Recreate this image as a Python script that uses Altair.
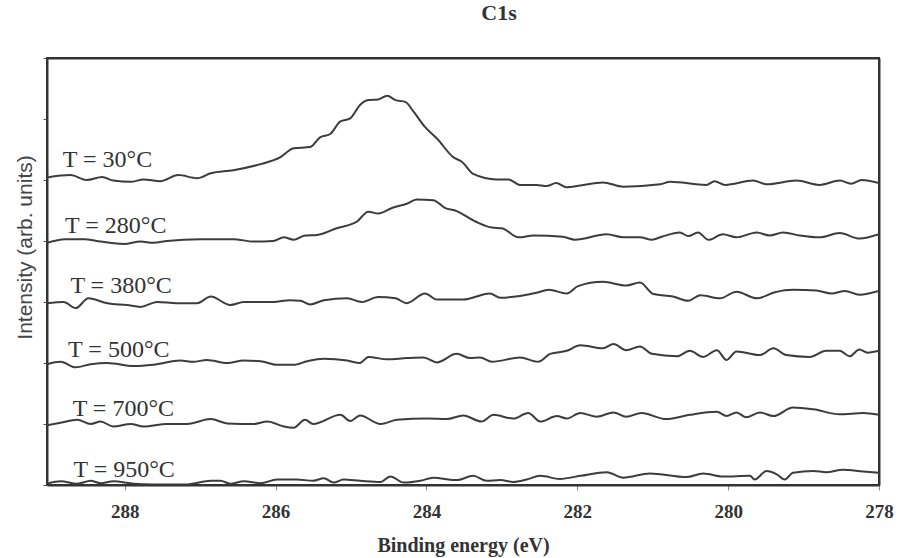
import altair as alt
import pandas as pd

# (binding energy eV, intensity arb. units, offset stacked)
t30 = [(289.03,5.04),(288.72,5.08),(288.50,5.00),(288.30,5.05),(288.15,4.99),(287.92,4.97),(287.75,5.01),
       (287.53,4.98),(287.29,5.08),(287.04,5.03),(286.86,5.11),(286.56,5.16),(286.20,5.26),(285.94,5.37),
       (285.76,5.52),(285.54,5.54),(285.41,5.70),(285.28,5.75),(285.14,5.96),(285.01,6.01),(284.88,6.23),
       (284.77,6.31),(284.64,6.32),(284.52,6.38),(284.41,6.31),(284.28,6.28),(284.17,6.12),(284.02,5.87),
       (283.86,5.68),(283.64,5.37),(283.53,5.30),(283.38,5.10),(283.07,5.01),(282.91,5.01),(282.76,4.92),
       (282.54,4.92),(282.41,4.90),(282.28,4.95),(282.14,4.88),(281.96,4.91),(281.66,4.96),(281.39,4.89),
       (280.90,4.93),(280.77,4.97),(280.29,4.92),(280.18,4.98),(280.04,4.92),(279.67,4.99),(279.49,4.93),
       (279.09,4.99),(278.79,4.92),(278.52,4.99),(278.37,4.94),(278.23,5.00),(278.00,4.95)]

t280 = [(289.03,3.97),(288.79,4.03),(288.54,4.03),(288.32,3.99),(288.01,3.95),(287.79,3.99),(287.62,3.97),
        (287.44,4.00),(287.00,4.03),(286.56,4.03),(286.29,3.99),(286.03,4.00),(285.89,4.06),(285.76,4.02),
        (285.61,4.09),(285.45,4.10),(285.19,4.21),(284.92,4.32),(284.77,4.48),(284.64,4.45),(284.44,4.55),
        (284.26,4.61),(284.13,4.68),(283.91,4.67),(283.75,4.54),(283.62,4.50),(283.35,4.32),(283.13,4.22),
        (283.00,4.21),(282.78,4.06),(282.58,4.09),(282.19,4.07),(282.03,4.02),(281.61,4.11),(281.39,4.06),
        (281.17,4.06),(281.01,4.02),(280.88,4.07),(280.64,4.14),(280.53,4.08),(280.40,4.14),(280.26,4.02),
        (280.07,4.11),(279.89,4.06),(279.62,4.14),(279.45,4.09),(279.27,4.14),(279.05,4.09),(278.79,4.06),
        (278.52,4.13),(278.26,4.04),(278.00,4.11)]

t380 = [(289.03,2.98),(288.81,3.00),(288.65,2.90),(288.48,3.06),(288.23,2.98),(287.97,2.95),(287.79,2.92),
        (287.57,3.00),(287.31,2.98),(287.04,2.98),(286.86,3.09),(286.60,2.95),(286.42,3.00),(286.03,3.00),
        (285.81,3.03),(285.67,3.02),(285.54,2.96),(285.36,3.03),(285.05,3.06),(284.86,3.00),(284.64,3.08),
        (284.41,3.06),(284.26,2.98),(284.02,3.14),(283.86,3.04),(283.51,3.04),(283.16,3.14),(283.02,3.07),
        (282.76,3.10),(282.54,3.15),(282.38,3.20),(282.14,3.14),(281.99,3.26),(281.66,3.33),(281.35,3.27),
        (281.17,3.32),(280.99,3.13),(280.73,3.09),(280.53,3.02),(280.37,3.11),(280.11,3.06),(279.89,3.17),
        (279.62,3.06),(279.38,3.16),(279.14,3.20),(278.83,3.19),(278.63,3.14),(278.45,3.18),(278.26,3.12),
        (278.00,3.18)]

t500 = [(289.03,1.98),(288.85,2.02),(288.65,1.93),(288.45,1.98),(288.23,2.00),(287.88,1.95),(287.62,1.97),
        (287.26,2.04),(287.09,2.02),(286.91,2.05),(286.64,2.00),(286.42,2.04),(286.20,2.03),(285.98,1.97),
        (285.76,1.97),(285.58,2.03),(285.36,2.07),(285.05,2.04),(284.88,2.00),(284.77,2.10),(284.52,2.06),
        (284.26,2.08),(284.04,2.09),(283.86,2.01),(283.60,2.15),(283.42,2.08),(283.29,2.09),(283.13,2.02),
        (282.76,2.09),(282.52,2.02),(282.36,2.15),(282.14,2.20),(281.96,2.29),(281.66,2.24),(281.52,2.31),
        (281.35,2.21),(281.17,2.27),(281.01,2.15),(280.68,2.11),(280.51,2.20),(280.33,2.10),(280.15,2.21),
        (280.02,2.05),(279.89,2.19),(279.58,2.13),(279.40,2.24),(279.23,2.13),(278.92,2.10),(278.70,2.20),
        (278.52,2.20),(278.39,2.11),(278.26,2.22),(278.15,2.17),(278.00,2.20)]

t700 = [(289.03,0.98),(288.85,1.02),(288.63,1.07),(288.45,1.00),(288.32,1.04),(288.15,0.96),(287.92,1.00),
        (287.75,0.96),(287.44,1.00),(287.17,1.00),(286.86,1.08),(286.64,1.01),(286.29,1.00),(286.11,1.04),
        (285.89,0.96),(285.76,0.94),(285.61,1.07),(285.50,1.00),(285.14,1.15),(285.01,1.05),(284.88,1.14),
        (284.61,1.00),(284.39,1.07),(283.99,1.09),(283.73,1.08),(283.51,1.14),(283.27,1.04),(283.11,1.15),
        (282.85,1.09),(282.65,1.18),(282.49,1.04),(282.27,1.13),(282.14,1.09),(281.96,1.18),(281.74,1.12),
        (281.52,1.19),(281.35,1.12),(281.15,1.18),(280.82,1.08),(280.51,1.15),(280.15,1.20),(280.02,1.13),
        (279.89,1.19),(279.76,1.11),(279.58,1.19),(279.40,1.13),(279.14,1.27),(278.87,1.24),(278.52,1.16),
        (278.21,1.18),(278.00,1.15)]

t950 = [(289.03,0.02),(288.85,0.06),(288.63,0.02),(288.45,0.07),(288.32,0.03),(288.15,0.06),(287.88,0.02),
        (287.62,0.01),(287.17,0.01),(286.86,0.07),(286.73,0.07),(286.60,0.02),(286.42,0.06),(286.20,0.03),
        (285.98,0.09),(285.72,0.09),(285.50,0.07),(285.36,0.11),(285.23,0.04),(285.10,0.09),(284.88,0.07),
        (284.61,0.05),(284.48,0.14),(284.30,0.04),(284.08,0.07),(283.91,0.12),(283.60,0.08),(283.38,0.15),
        (283.20,0.07),(283.02,0.08),(282.85,0.05),(282.67,0.09),(282.49,0.15),(282.23,0.10),(281.96,0.15),
        (281.61,0.21),(281.39,0.12),(281.04,0.19),(280.55,0.13),(280.33,0.19),(280.07,0.14),(279.71,0.15),
        (279.65,0.09),(279.49,0.23),(279.36,0.18),(279.25,0.09),(279.14,0.20),(278.87,0.23),(278.70,0.21),
        (278.48,0.25),(278.21,0.22),(278.00,0.20)]

series_names = ["T = 30°C", "T = 280°C", "T = 380°C", "T = 500°C", "T = 700°C", "T = 950°C"]
series_data = [t30, t280, t380, t500, t700, t950]
label_energy = [288.82, 288.79, 288.72, 288.75, 288.69, 288.68]
label_intensity = [5.33, 4.25, 3.26, 2.22, 1.24, 0.25]
x_ticks = [278, 280, 282, 284, 286, 288]
y_ticks = [0, 1, 2, 3, 4, 5, 6, 7]

rows = []
for name, pts in zip(series_names, series_data):
    for i, (e, v) in enumerate(pts):
        rows.append({"series": name, "E": e, "I": v, "order": i})
df = pd.DataFrame(rows)
labels = pd.DataFrame({"label": series_names, "E": label_energy, "I": label_intensity})

xscale = alt.Scale(domain=[278, 289.03], reverse=True, nice=False, zero=False)
yscale = alt.Scale(domain=[0, 7], nice=False, zero=False)

FRAME = "#333333"

xaxis = alt.Axis(values=x_ticks, format="d", labelFont="Liberation Serif", labelFontWeight="bold",
                 labelFontSize=19, labelColor="#333", labelPadding=12, tickSize=5, tickColor="#888",
                 domain=True, domainColor=FRAME, domainWidth=2, grid=False,
                 labelFlush=False, labelBound=False,
                 title="Binding energy (eV)", titleFont="Liberation Serif", titleFontSize=20,
                 titleFontWeight="bold", titleColor="#333", titleX=416, titleY=60,
                 titleBaseline="middle", titleAlign="center")
yaxis = alt.Axis(values=y_ticks, labels=False, tickSize=4, tickColor="#555",
                 domain=True, domainColor=FRAME, domainWidth=2, grid=False,
                 title="Intensity (arb. units)", titleFont="Liberation Sans", titleFontSize=21,
                 titleFontWeight="normal", titleColor="#444", titleX=-21.5, titleY=189,
                 titleAngle=270, titleBaseline="middle", titleAlign="center")
xaxis_top = alt.Axis(orient="top", labels=False, ticks=False, grid=False, title=None,
                     domain=True, domainColor=FRAME, domainWidth=2)
yaxis_right = alt.Axis(orient="right", labels=False, ticks=False, grid=False, title=None,
                       domain=True, domainColor=FRAME, domainWidth=2)

lines = alt.Chart(df).mark_line(color="#3c3c3c", strokeWidth=2, interpolate="monotone", clip=True).encode(
    x=alt.X("E:Q", scale=xscale, axis=xaxis),
    y=alt.Y("I:Q", scale=yscale, axis=yaxis),
    detail="series:N",
    order="order:Q",
)

text = alt.Chart(labels).mark_text(align="left", baseline="middle", font="Liberation Serif",
                                    fontSize=24, color="#333").encode(
    x=alt.X("E:Q", scale=xscale, axis=xaxis_top),
    y=alt.Y("I:Q", scale=yscale, axis=yaxis_right),
    text="label:N",
)

chart = alt.layer(lines, text).resolve_axis(x="independent", y="independent").properties(
    width=832, height=427,
    background="white",
    autosize=alt.AutoSizeParams(type="none"),
    padding={"left": 47, "top": 58, "right": 19, "bottom": 73},
    title=alt.TitleParams("C1s", font="Liberation Serif", fontSize=22, fontWeight="bold",
                          color="#333", dx=36, offset=33),
).configure_view(stroke=FRAME, strokeWidth=2)

chart.save("out.html", embed_options={"renderer": "svg", "actions": False})
